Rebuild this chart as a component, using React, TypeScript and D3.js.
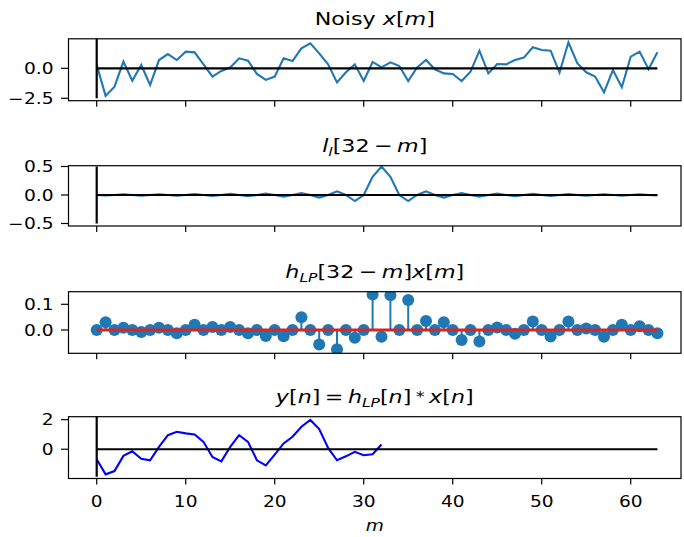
import React from "react";
import * as d3 from "d3";

// ---------- data ----------
const noisyX = [0.3, -2.3, -1.53, 0.56, -1.03, 0.28, -1.39, 0.69, 1.19, 0.69, 1.39, 1.33, 0.33, -0.69, -0.22, 0.06,
  0.83, 0.64, -0.47, -0.97, -0.69, 0.83, 0.61, 1.67, 2.08, 1.25, 0.33, -1.17, -0.33, 0.33, -1.06, 0.53,
  0.08, 0.5, 0.19, -1.06, 0.08, 0.69, -0.08, -0.42, -0.47, -1.06, -0.28, 1.47, -0.42, 0.36, 0.33, 0.69,
  0.89, 1.75, 1.53, 1.47, -0.36, 2.17, 0.42, -0.33, -0.69, -2.0, -0.14, -1.58, 0.97, 1.39, -0.08, 1.33];

const lowpassRev = [0, -0.01, 0, 0.011, 0, -0.012, 0, 0.013, 0, -0.014, 0, 0.015, 0, -0.017, 0, 0.019,
  0, -0.021, 0, 0.024, 0, -0.029, 0, 0.035, 0, -0.045, 0, 0.064, 0, -0.106, 0, 0.318,
  0.5, 0.318, 0, -0.106, 0, 0.064, 0, -0.045, 0, 0.035, 0, -0.029, 0, 0.024, 0, -0.021,
  0, 0.019, 0, -0.017, 0, 0.015, 0, -0.014, 0, 0.013, 0, -0.012, 0, 0.011, 0, -0.01];

const product = [0, 0.03, 0, 0.009, 0, -0.008, 0, 0.009, 0, -0.013, 0, 0.02, 0, 0.012, 0, 0.012,
  0, -0.013, 0, -0.023, 0, -0.024, 0, 0.05, 0, -0.056, 0, -0.075, 0, -0.03, 0, 0.138,
  -0.026, 0.135, 0, 0.117, 0, 0.035, 0, 0.03, 0, -0.039, 0, -0.045, 0, 0.01, 0, -0.015,
  0, 0.033, 0, -0.025, 0, 0.033, 0, 0.006, 0, -0.026, 0, 0.02, 0, 0.015, 0, -0.013];

const filtered = [-0.68, -1.7, -1.48, -0.45, -0.14, -0.64, -0.75, 0.16, 0.95, 1.18, 1.07, 1.0, 0.5, -0.52, -0.82,
  0.16, 0.95, 0.5, -0.75, -1.09, -0.36, 0.39, 0.84, 1.52, 1.98, 1.36, 0.09, -0.75, -0.48, -0.18, -0.41, -0.34, 0.32];

const xTicks = [0, 10, 20, 30, 40, 50, 60];
const yTicks1 = [-2.5, 0];
const yTicks2 = [-0.5, 0, 0.5];
const yTicks3 = [0, 0.1];
const yTicks4 = [0, 2];
const vlineRange1 = [-2.5, 2.5];
const vlineRange2 = [-0.5, 0.5];
const vlineRange4 = [-1.86, 2.3];
const hlineRange = [0, 63];

// ---------- layout ----------
const W = 684, H = 537;
const LEFT = 68.5, RIGHT = 681;
const SX = 1.2;
const FONT = "DejaVu Sans";
const TICK_FS = 15.5;
const TITLE_FS = 18.5;
const C0 = "#1f77b4";

const x = d3.scaleLinear().domain([-3.169, 65.65]).range([LEFT, RIGHT]);

const panels = [
  { top: 38.8, bottom: 100.7, domain: [-2.7, 2.46], ticks: yTicks1, fmt: d3.format(".1f") },
  { top: 165.7, bottom: 226, domain: [-0.544, 0.514], ticks: yTicks2, fmt: d3.format(".1f") },
  { top: 291.7, bottom: 353.3, domain: [-0.0907, 0.149], ticks: yTicks3, fmt: d3.format(".1f") },
  { top: 416.7, bottom: 478.5, domain: [-1.98, 2.2], ticks: yTicks4, fmt: d3.format("d") },
];

function Txt({ x: tx, y: ty, size, anchor = "middle", children }: any) {
  return (
    <text transform={`translate(${tx},${ty}) scale(${SX},1)`} fontSize={size} textAnchor={anchor}
      fontFamily={FONT} fill="#000">{children}</text>
  );
}

const I = ({ children }: any) => <tspan fontStyle="italic">{children}</tspan>;

function Sub({ children, size }: any) {
  return <tspan fontSize={size * 0.7} fontStyle="italic" dy={size * 0.22}>{children}</tspan>;
}

function Up({ size, children }: any) {
  return <tspan dy={-size * 0.22}>{children}</tspan>;
}

function Axes({ p, idx, children, title }: any) {
  const y = d3.scaleLinear().domain(p.domain).range([p.bottom, p.top]);
  const id = `clip${idx}`;
  return (
    <g>
      <defs>
        <clipPath id={id}>
          <rect x={LEFT} y={p.top} width={RIGHT - LEFT} height={p.bottom - p.top} />
        </clipPath>
      </defs>
      <g clipPath={`url(#${id})`}>{children(y)}</g>
      <rect x={LEFT} y={p.top} width={RIGHT - LEFT} height={p.bottom - p.top} fill="none" stroke="#000" strokeWidth={1.2} />
      {p.ticks.map((t: number) => (
        <g key={t}>
          <line x1={LEFT - 7.5} x2={LEFT} y1={y(t)} y2={y(t)} stroke="#000" strokeWidth={1.2} />
          <Txt x={53.5} y={y(t) + 0.365 * TICK_FS} size={TICK_FS} anchor="end">{p.fmt(t)}</Txt>
        </g>
      ))}
      {xTicks.map((t) => (
        <line key={t} x1={x(t)} x2={x(t)} y1={p.bottom} y2={p.bottom + 6} stroke="#000" strokeWidth={1.2} />
      ))}
      <Txt x={(LEFT + RIGHT) / 2} y={p.top - 13.5} size={TITLE_FS}>{title}</Txt>
    </g>
  );
}

export default function App() {
  const idxX = noisyX.map((_, i) => i);
  const line = (ys: number[], y: any) =>
    d3.line<number>().x((_, i) => x(i)).y((v) => y(v))(ys) || "";

  const refLines = (y: any, vr: number[] | null) => (
    <g>
      <line x1={x(hlineRange[0])} x2={x(hlineRange[1])} y1={y(0)} y2={y(0)} stroke="#000" strokeWidth={2.2} />
      {vr && <line x1={x(0)} x2={x(0)} y1={y(vr[0])} y2={y(vr[1])} stroke="#000" strokeWidth={2.2} />}
    </g>
  );

  return (
    <svg width={W} height={H} style={{ position: "absolute", left: 0, top: 0, background: "#fff" }}>
      <rect width={W} height={H} fill="#fff" />
      <Axes p={panels[0]} idx={0}
        title={<>Noisy <I>x</I>[<I>m</I>]</>}>
        {(y: any) => (
          <g>
            <path d={line(noisyX, y)} fill="none" stroke={C0} strokeWidth={2.1} />
            {refLines(y, vlineRange1)}
          </g>
        )}
      </Axes>
      <Axes p={panels[1]} idx={1}
        title={<><I>l</I><Sub size={TITLE_FS}>l</Sub><Up size={TITLE_FS}>[32{"\u2009"}−{"\u2009"}</Up><I>m</I>]</>}>
        {(y: any) => (
          <g>
            <path d={line(lowpassRev, y)} fill="none" stroke={C0} strokeWidth={2.1} />
            {refLines(y, vlineRange2)}
          </g>
        )}
      </Axes>
      <Axes p={panels[2]} idx={2}
        title={<><I>h</I><Sub size={TITLE_FS}>LP</Sub><Up size={TITLE_FS}>[32{"\u2009"}−{"\u2009"}</Up><I>m</I>]<I>x</I>[<I>m</I>]</>}>
        {(y: any) => (
          <g>
            {product.map((v, i) => (
              <line key={"s" + i} x1={x(i)} x2={x(i)} y1={y(0)} y2={y(v)} stroke={C0} strokeWidth={2} />
            ))}
            {product.map((v, i) => (
              <circle key={"c" + i} cx={x(i)} cy={y(v)} r={6} fill={C0} />
            ))}
            <line x1={x(0)} x2={x(idxX.length - 1)} y1={y(0)} y2={y(0)} stroke="#d62728" strokeWidth={2.8} />
          </g>
        )}
      </Axes>
      <Axes p={panels[3]} idx={3}
        title={<><I>y</I>[<I>n</I>]{"\u2009"}={"\u2009"}<I>h</I><Sub size={TITLE_FS}>LP</Sub><Up size={TITLE_FS}>[</Up><I>n</I>]{"\u2009"}<tspan fontSize={TITLE_FS * 0.8} dy={-TITLE_FS * 0.12}>*</tspan><tspan dy={TITLE_FS * 0.12}>{"\u2009"}</tspan><I>x</I>[<I>n</I>]</>}>
        {(y: any) => (
          <g>
            <path d={line(filtered, y)} fill="none" stroke="#0000ff" strokeWidth={2.1} />
            {refLines(y, vlineRange4)}
          </g>
        )}
      </Axes>
      {xTicks.map((t) => (
        <Txt key={t} x={x(t)} y={506.5} size={TICK_FS}>{String(t)}</Txt>
      ))}
      <Txt x={(LEFT + RIGHT) / 2} y={531} size={TICK_FS}><I>m</I></Txt>
    </svg>
  );
}
